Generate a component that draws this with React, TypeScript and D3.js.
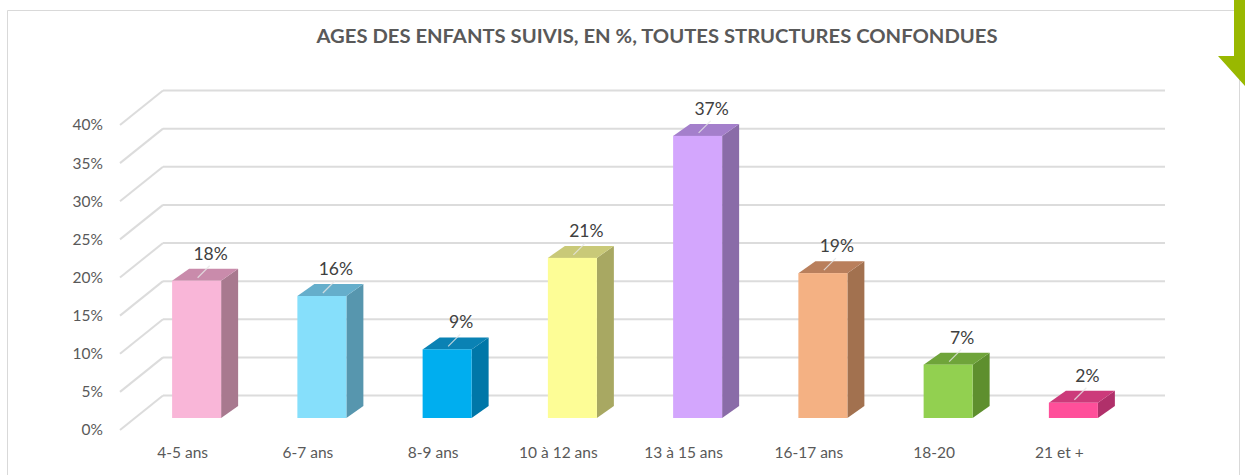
import React from "react";
import * as d3 from "d3";

// ages des enfants suivis, toutes structures confondues (%)
const categories = ["4-5 ans", "6-7 ans", "8-9 ans", "10 à 12 ans", "13 à 15 ans", "16-17 ans", "18-20", "21 et +"];
const values = [18, 16, 9, 21, 37, 19, 7, 2];
const yTicks = [0, 5, 10, 15, 20, 25, 30, 35, 40];

// front / top / side shades for each bar
const frontColors = ["#f9b6d8", "#86dffb", "#00aeef", "#fdfd96", "#d3a6fd", "#f4b183", "#92d050", "#ff4f9a"];
const topColors = ["#c98bab", "#65aecb", "#0a82b4", "#c9c978", "#a47fcb", "#b97f5c", "#6fa43a", "#cc3a7a"];
const sideColors = ["#a8798f", "#5796ae", "#0077a8", "#a8a862", "#8a6ca8", "#a2714f", "#5e8f2e", "#b0306a"];

const W = 1245, H = 475;
const left = 120, right = 1122;
const wallDx = 43, wallDy = -34.5;   // depth of the back wall
const barShiftX = 14, barShiftY = -12; // bar front face sits a bit into the floor
const barDx = 17, barDy = -12;         // bar depth
const barW = 49;

const font = "Lato, 'Open Sans', sans-serif";

export default function App() {
  const x = d3.scaleBand<string>().domain(categories).range([left, right]);
  const y = d3.scaleLinear().domain([0, 40]).range([430, 125]);

  return (
    <svg width={W} height={H} style={{ position: "absolute", left: 0, top: 0, background: "#fff" }}>
      {/* card */}
      <path d={`M7.5,${H + 5} V10.5 H1234`} fill="none" stroke="#d9d9d9" strokeWidth={1} />
      <line x1={1239.5} y1={60} x2={1239.5} y2={H + 5} stroke="#d9d9d9" strokeWidth={1} />
      <polygon points="1234,0 1245,0 1245,86 1218,56 1234,56" fill="#99b800" />

      <text x={657} y={43} textAnchor="middle" fontFamily={font} fontWeight="bold" fontSize={19.5}
        fill="#595959" textLength={681} lengthAdjust="spacingAndGlyphs">
        AGES DES ENFANTS SUIVIS, EN %, TOUTES STRUCTURES CONFONDUES
      </text>

      {/* grid: side wall diagonals and back wall lines */}
      <g stroke="#dcdcdc" strokeWidth={2} fill="none">
        {yTicks.map((t) => (
          <g key={t}>
            <line x1={left} y1={y(t)} x2={left + wallDx} y2={y(t) + wallDy} />
            <line x1={left + wallDx} y1={y(t) + wallDy} x2={right + wallDx} y2={y(t) + wallDy} />
          </g>
        ))}
      </g>

      {yTicks.map((t) => (
        <text key={t} x={103} y={y(t)} dy="0.35em" textAnchor="end" fontFamily={font} fontSize={15.5} fill="#595959">
          {t}%
        </text>
      ))}

      {categories.map((c, i) => {
        const cx = (x(c) as number) + x.bandwidth() / 2 + barShiftX;
        const x0 = cx - barW / 2, x1 = cx + barW / 2;
        const yb = y(0) + barShiftY;
        const yt = y(values[i]) + barShiftY;
        return (
          <g key={c}>
            <polygon points={`${x1},${yb} ${x1 + barDx},${yb + barDy} ${x1 + barDx},${yt + barDy} ${x1},${yt}`}
              fill={sideColors[i]} />
            <polygon points={`${x0},${yt} ${x0 + barDx},${yt + barDy} ${x1 + barDx},${yt + barDy} ${x1},${yt}`}
              fill={topColors[i]} />
            <rect x={x0} y={yt} width={barW} height={yb - yt} fill={frontColors[i]} />
            <line x1={cx + 1} y1={yt - 3} x2={cx + 13} y2={yt - 15} stroke="#e6e6e6" strokeOpacity={0.8} strokeWidth={1.2} />
            <text x={cx + 14} y={yt - 21} textAnchor="middle" fontFamily={font} fontSize={17.5} fill="#404040">
              {values[i]}%
            </text>
          </g>
        );
      })}

      {categories.map((c) => (
        <text key={c} x={(x(c) as number) + x.bandwidth() / 2} y={458} textAnchor="middle"
          fontFamily={font} fontSize={15.5} fill="#595959">
          {c}
        </text>
      ))}
    </svg>
  );
}
